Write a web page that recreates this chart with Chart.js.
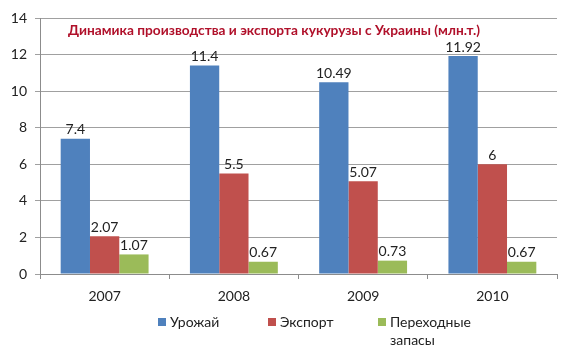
<!DOCTYPE html>
<html>
<head>
<meta charset="utf-8">
<script src="https://cdn.jsdelivr.net/npm/chart.js@4/dist/chart.umd.min.js"></script>
<style>
  html, body { margin: 0; padding: 0; background: #fff; }
  #wrap { position: relative; width: 573px; height: 351px; }
  #legend { position: absolute; top: 313px; left: 0; width: 573px; font: 14px Lato, sans-serif; color: #222; }
  .item { position: absolute; display: flex; align-items: flex-start; line-height: 18px; }
  .box { width: 8px; height: 8px; margin: 5px 4px 0 0; }
</style>
</head>
<body>
<div id="wrap">
  <canvas id="chart" width="573" height="351"></canvas>
  <div id="legend"></div>
</div>
<script>
const years = ['2007', '2008', '2009', '2010']
const harvest = [7.4, 11.4, 10.49, 11.92]
const exportVals = [2.07, 5.5, 5.07, 6]
const stocks = [1.07, 0.67, 0.73, 0.67]
const seriesNames = ['Урожай', 'Экспорт', ['Переходные', 'запасы']]
const seriesColors = ['#4F81BD', '#C0504D', '#9BBB59']
const yTicks = [0, 2, 4, 6, 8, 10, 12, 14]
const title = 'Динамика производства и экспорта кукурузы с Украины (млн.т.)'

const font = 'Lato, sans-serif'

const barLabels = {
    id: 'barLabels',
    afterDatasetsDraw: (chart) => {
        const ctx = chart.ctx
        ctx.save()
        ctx.font = '14px ' + font
        ctx.fillStyle = '#222'
        ctx.textAlign = 'center'
        ctx.textBaseline = 'bottom'
        chart.data.datasets.forEach((ds, i) => {
            chart.getDatasetMeta(i).data.forEach((bar, j) => {
                ctx.fillText(String(ds.data[j]), bar.x, bar.y - 2)
            })
        })
        ctx.restore()
    }
}

// title sits inside the plot area, like the original
const innerTitle = {
    id: 'innerTitle',
    afterDraw: (chart) => {
        const ctx = chart.ctx
        const area = chart.chartArea
        ctx.save()
        ctx.font = 'bold 14px ' + font
        ctx.fillStyle = '#B0102A'
        ctx.textAlign = 'left'
        ctx.textBaseline = 'middle'
        ctx.fillText(title, area.left + 28, 30, 412)
        ctx.restore()
    }
}

new Chart(document.getElementById('chart'), {
    type: 'bar',
    data: {
        labels: years,
        datasets: [harvest, exportVals, stocks].map((d, i) => ({
            label: [].concat(seriesNames[i]).join(' '),
            data: d,
            backgroundColor: seriesColors[i],
            borderWidth: 0,
            barPercentage: 1,
            categoryPercentage: 0.68
        }))
    },
    options: {
        responsive: false,
        animation: false,
        layout: { padding: { top: 18, right: 16, left: 0, bottom: 0 } },
        plugins: { legend: { display: false }, title: { display: false }, tooltip: { enabled: false } },
        scales: {
            x: {
                afterFit: (s) => { s.height = 77 },
                grid: { drawOnChartArea: false, drawTicks: true, tickLength: 5, color: '#8C8C8C', offset: true },
                border: { color: '#8C8C8C' },
                ticks: { font: { family: font, size: 14 }, color: '#222', padding: 9 }
            },
            y: {
                min: 0, max: 14,
                afterFit: (s) => { s.width = 40 },
                afterBuildTicks: (s) => { s.ticks = yTicks.map(v => ({ value: v })) },
                grid: { color: '#A0A0A0', tickLength: 5 },
                border: { color: '#8C8C8C' },
                ticks: { font: { family: font, size: 14 }, color: '#222', padding: 8 }
            }
        }
    },
    plugins: [barLabels, innerTitle]
})

const legendPos = [158, 268, 378]
const legend = document.getElementById('legend')
seriesNames.forEach((name, i) => {
    const item = document.createElement('div')
    item.className = 'item'
    item.style.left = legendPos[i] + 'px'
    const box = document.createElement('div')
    box.className = 'box'
    box.style.background = seriesColors[i]
    const txt = document.createElement('div')
    txt.innerHTML = [].concat(name).join('<br>')
    item.appendChild(box)
    item.appendChild(txt)
    legend.appendChild(item)
})
</script>
</body>
</html>
